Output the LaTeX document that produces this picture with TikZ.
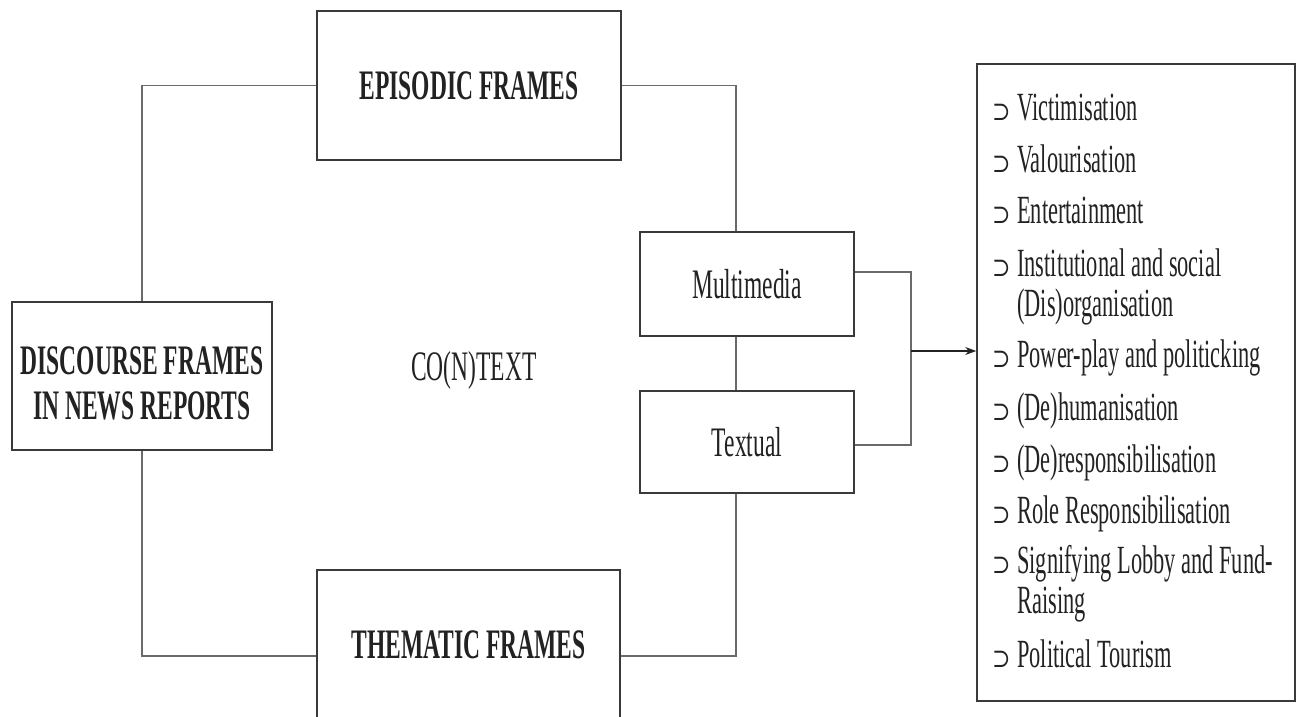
\documentclass[tikz,border=0pt]{standalone}
\usepackage{fontspec}
\setmainfont{Liberation Serif}[FakeStretch=0.56]
\newfontfamily\symfont{DejaVu Serif}[FakeStretch=0.85]
\usetikzlibrary{arrows.meta}
\definecolor{ink}{HTML}{222222}
\definecolor{edge}{HTML}{3A3A3A}
\definecolor{wirecol}{HTML}{6A6A6A}
\tikzset{
  frame/.style={draw=edge, line width=1.6pt, fill=white, inner sep=0pt, text=ink},
  title/.style={frame, font=\fontsize{42}{45}\selectfont\bfseries},
  medium/.style={frame, font=\fontsize{42}{45}\selectfont},
  wire/.style={draw=wirecol, line width=1.4pt},
  entry/.style={anchor=base west, inner sep=0pt, text=ink, font=\fontsize{40}{40}\selectfont},
}
% bullet used in front of each frame type
\newcommand{\framemark}{\makebox[25pt][l]{\symfont\fontsize{26}{26}\selectfont ⊃}}
\newcommand{\wrapped}[2]{\framemark\parbox[t]{270pt}{#1\\#2}}

\begin{document}
\begin{tikzpicture}[x=1pt,y=-1pt]
\useasboundingbox (0,0) rectangle (1302,717);
\clip (0,0) rectangle (1302,717);

% main boxes
\node[title, minimum width=260pt, minimum height=148pt, align=center] (disc) at (142,376)
  {\rule{0pt}{42pt}DISCOURSE FRAMES\\IN NEWS REPORTS};
\node[title, minimum width=304pt, minimum height=149pt] (epi) at (469,85.5) {EPISODIC FRAMES};
\node[title, minimum width=303pt, minimum height=172pt, text height=28pt, text depth=24pt] (them)
  at (468.5,656) {THEMATIC FRAMES};
\node[medium, minimum width=214pt, minimum height=104pt] (mm) at (747,284) {Multimedia};
\node[medium, minimum width=214pt, minimum height=102pt] (tx) at (747,442) {Textual};
\node[text=ink, font=\fontsize{42}{45}\selectfont, inner sep=0pt] (ctx) at (474,370) {CO(N)TEXT};

% list of frame types
\node[draw=edge, line width=1.6pt, minimum width=318pt, minimum height=637pt, inner sep=0pt]
  (list) at (1136,382.5) {};

% connectors around the context
\coordinate (spine) at (736,0);
\draw[wire] (epi.west) -| (disc.north);
\draw[wire] (disc.south) |- (them.west);
\draw[wire] (epi.east) -| (spine |- mm.north);
\draw[wire] (spine |- mm.south) -- (spine |- tx.north);
\draw[wire] (spine |- tx.south) |- (them.east);

% bracket into the list
\coordinate (jn) at (911,351);
\draw[wire] ([yshift=12pt]mm.east) -| (jn);
\draw[wire] ([yshift=-3pt]tx.east) -| (jn);
\draw[wire, draw=ink, -{Stealth[length=11pt,width=8pt]}] (jn) -- (jn -| list.west);

% entries
\node[entry] (e1) at (992,121) {\framemark Victimisation};
\node[entry] (e2) at (992,172) {\framemark Valourisation};
\node[entry] (e3) at (992,223) {\framemark Entertainment};
\node[entry] (e4) at (992,276) {\wrapped{Institutional and social}{(Dis)organisation}};
\node[entry] (e5) at (992,367) {\framemark Power-play and politicking};
\node[entry] (e6) at (992,420) {\framemark (De)humanisation};
\node[entry] (e7) at (992,472) {\framemark (De)responsibilisation};
\node[entry] (e8) at (992,523) {\framemark Role Responsibilisation};
\node[entry] (e9) at (992,573) {\wrapped{Signifying Lobby and Fund-}{Raising}};
\node[entry] (e10) at (992,667) {\framemark Political Tourism};
\end{tikzpicture}
\end{document}
